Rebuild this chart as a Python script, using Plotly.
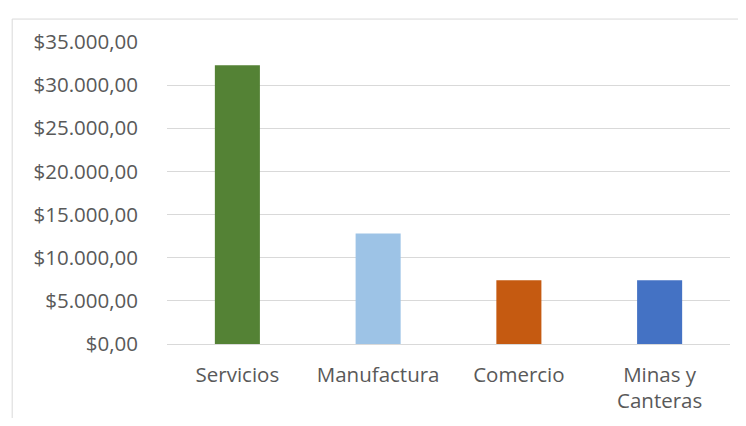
import plotly.graph_objects as go

categories = ["Servicios", "Manufactura", "Comercio", "Minas y<br>Canteras"]
values = [32300, 12800, 7400, 7400]
colors = ["#548235", "#9DC3E6", "#C55A11", "#4472C4"]
tick_vals = [0, 5000, 10000, 15000, 20000, 25000, 30000, 35000]
tick_labels = ["$0,00", "$5.000,00", "$10.000,00", "$15.000,00", "$20.000,00",
               "$25.000,00", "$30.000,00", "$35.000,00"]

fig = go.Figure(go.Bar(x=categories, y=values, marker=dict(color=colors, line=dict(width=0)), width=0.32))

fig.update_layout(
    width=730, height=410,
    margin=dict(l=159, r=8, t=34, b=74),
    paper_bgcolor="white", plot_bgcolor="white",
    font=dict(family="Open Sans, sans-serif", size=20.5, color="#595959"),
    showlegend=False,
)
fig.update_yaxes(range=[0, 35000], tickvals=tick_vals, ticktext=tick_labels, automargin=False,
                 showgrid=True, gridcolor="#D9D9D9", gridwidth=1.3, zeroline=True, zerolinecolor="#D9D9D9",
                 zerolinewidth=1.3, showline=False, ticks="", ticklen=0, ticklabelstandoff=28)
fig.update_xaxes(showgrid=False, showline=False, ticks="", ticklabelstandoff=16, automargin=False)
fig.add_shape(type="rect", xref="paper", yref="paper", x0=-0.275, y0=-0.4, x1=1.2, y1=1.076,
              line=dict(color="#D9D9D9", width=1), fillcolor="rgba(0,0,0,0)", layer="below")
fig.write_html("out.html")
